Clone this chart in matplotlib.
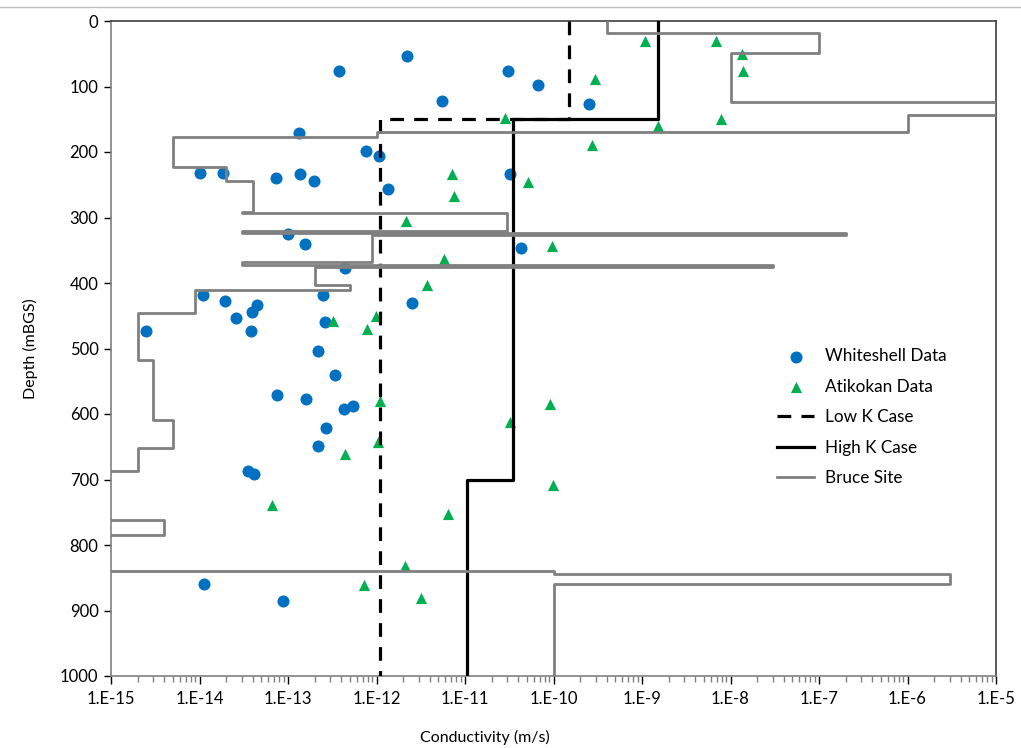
import numpy as np
import matplotlib.pyplot as plt
from matplotlib.ticker import FixedLocator, NullFormatter

plt.rcParams['font.family'] = ['Lato', 'DejaVu Sans']

# Whiteshell data (conductivity m/s, depth mBGS)
ws_k = [3.8e-13, 2.2e-12, 3.1e-11, 6.7e-11, 5.5e-12, 2.5e-10, 1.33e-13, 7.6e-13, 1.07e-12,
        1.35e-12, 3.2e-11, 1.01e-14, 1.85e-14, 7.3e-14, 1.37e-13, 1.97e-13, 1.0e-13, 1.55e-13,
        4.4e-13, 4.3e-11, 1.1e-14, 1.94e-14, 4.5e-14, 3.9e-14, 2.6e-14, 3.8e-14, 2.5e-15,
        2.5e-13, 2.6e-13, 2.5e-12, 2.2e-13, 3.4e-13, 7.5e-14, 1.6e-13, 4.3e-13, 5.4e-13,
        2.7e-13, 2.2e-13, 3.5e-14, 4.1e-14, 1.12e-14, 8.8e-14]
ws_d = [76, 53, 76, 98, 122, 127, 171, 198, 206,
        256, 234, 232, 232, 240, 233, 244, 325, 340,
        377, 347, 418, 427, 434, 444, 454, 474, 473,
        418, 459, 431, 504, 540, 571, 577, 592, 588,
        621, 649, 687, 692, 860, 886]

# Atikokan data
at_k = [1.07e-9, 6.9e-9, 1.35e-8, 1.4e-8, 2.95e-10, 2.8e-11, 1.5e-9, 7.9e-9, 2.7e-10,
        5.1e-11, 7.1e-12, 7.5e-12, 2.15e-12, 9.6e-11, 5.8e-12, 3.7e-12, 9.8e-13, 7.8e-13,
        3.2e-13, 1.1e-12, 9.1e-11, 3.2e-11, 1.05e-12, 4.4e-13, 6.6e-14, 6.4e-12, 9.8e-11,
        2.1e-12, 7.2e-13, 3.2e-12]
at_d = [31, 31, 50, 76, 89, 148, 160, 150, 190,
        246, 233, 267, 305, 343, 364, 403, 450, 470,
        458, 580, 585, 612, 643, 661, 739, 753, 708,
        832, 861, 881]

# Low K case
lowk_k = [1.5e-10, 1.5e-10, 1.1e-12, 1.1e-12]
lowk_d = [0, 150, 150, 1000]

# High K case
highk_k = [1.5e-9, 1.5e-9, 3.5e-11, 3.5e-11, 1.05e-11, 1.05e-11]
highk_d = [0, 150, 150, 700, 700, 1000]

# Bruce site profile
bruce_k = [4e-10, 4e-10, 1e-7, 1e-7, 1e-8, 1e-8, 1e-5, 1e-5, 1e-6, 1e-6, 1e-12, 1e-12,
           5e-15, 5e-15, 2e-14, 2e-14, 4e-14, 4e-14, 3e-14, 3e-14, 3e-11, 3e-11, 3e-14, 3e-14,
           2e-7, 2e-7, 9e-13, 9e-13, 3e-14, 3e-14, 3e-8, 3e-8, 2e-13, 2e-13, 5e-13, 5e-13,
           9e-15, 9e-15, 2e-15, 2e-15, 3e-15, 3e-15, 5e-15, 5e-15, 2e-15, 2e-15, 1e-16, 1e-16,
           4e-15, 4e-15, 1e-16, 1e-16, 1e-10, 1e-10, 3e-6, 3e-6, 1e-10, 1e-10]
bruce_d = [0, 18, 18, 49, 49, 124, 124, 144, 144, 170, 170, 177,
           177, 223, 223, 244, 244, 291, 291, 293, 293, 320, 320, 324,
           324, 326, 326, 368, 368, 373, 373, 375, 375, 403, 403, 410,
           410, 446, 446, 518, 518, 609, 609, 652, 652, 687, 687, 762,
           762, 785, 785, 840, 840, 845, 845, 860, 860, 1000]

decades = list(range(-15, -4))
xlabels = ['1.E%d' % d for d in decades]

fig = plt.figure(figsize=(10.21, 7.48), dpi=100)
ax = fig.add_axes([111 / 1021, 1 - 676 / 748, 885 / 1021, 655 / 748])

ax.scatter(ws_k, ws_d, s=75, marker='o', color='#0070C0', linewidths=0,
           label='Whiteshell Data', zorder=3)
ax.scatter(at_k, at_d, s=65, marker='^', color='#00B050', linewidths=0,
           label='Atikokan Data', zorder=3)
ax.plot(lowk_k, lowk_d, color='black', lw=2.3, dashes=(4.3, 3.2), label='Low K Case', zorder=4)
ax.plot(highk_k, highk_d, color='black', lw=2.3, label='High K Case', zorder=5)
ax.plot(bruce_k, bruce_d, color='#808080', lw=2, label='Bruce Site', zorder=6)

ax.set_xscale('log')
ax.set_xlim(1e-15, 1e-5)
ax.set_ylim(1000, 0)

ax.xaxis.set_major_locator(FixedLocator([10.0 ** d for d in decades]))
ax.set_xticklabels(xlabels)
minors = [m * 10.0 ** d for d in decades[:-1] for m in range(2, 10)]
ax.xaxis.set_minor_locator(FixedLocator(minors))
ax.xaxis.set_minor_formatter(NullFormatter())
ax.set_yticks(np.arange(0, 1001, 100))

ax.tick_params(axis='x', which='major', length=6, width=1, labelsize=12, pad=5)
ax.tick_params(axis='x', which='minor', length=4, width=1, color='#808080')
ax.tick_params(axis='y', which='major', length=5, width=1, labelsize=12, pad=4)

for side in ['top', 'right']:
    ax.spines[side].set_color('#404040')
    ax.spines[side].set_linewidth(1.2)
for side in ['left', 'bottom']:
    ax.spines[side].set_color('#808080')
    ax.spines[side].set_linewidth(1.2)

ax.set_xlabel('Conductivity (m/s)', fontsize=11.5, labelpad=18)
ax.xaxis.set_label_coords(0.4226, -0.083)
ax.set_ylabel('Depth (mBGS)', fontsize=11.5, labelpad=16)

leg = ax.legend(loc='upper left', bbox_to_anchor=(0.735, 0.524), frameon=False,
                fontsize=12.3, handlelength=2.2, labelspacing=0.85, handletextpad=0.6)

fig.add_artist(plt.Line2D([0, 1], [1 - 7 / 748, 1 - 7 / 748], transform=fig.transFigure,
                          color='#BFBFBF', lw=1))

plt.savefig('out.png', dpi=100)
